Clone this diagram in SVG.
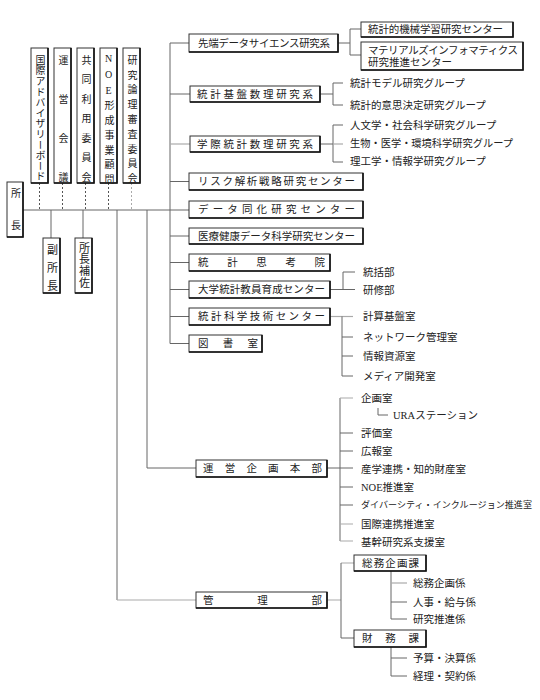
<svg xmlns="http://www.w3.org/2000/svg" width="540" height="700" viewBox="0 0 540 700">
<style>
text{font-family:"Liberation Serif","Noto Sans CJK JP",serif;font-size:10.5px;fill:#222;dominant-baseline:central}
.v{writing-mode:vertical-rl;text-orientation:upright;font-size:10px}
.b{fill:#fff;stroke:#333;stroke-width:1}
.s{fill:none;stroke:#111;stroke-width:1.6}
.ln{fill:none;stroke:#666;stroke-width:1}
.lt{fill:none;stroke:#aaa;stroke-width:1.2}
.d{fill:none;stroke:#555;stroke-width:1;stroke-dasharray:2,2}
.dl{fill:none;stroke:#aaa;stroke-width:1;stroke-dasharray:2,2}
</style>
<rect width="540" height="700" fill="#fff"/>
<g id="connectors">
<path class="ln" d="M23,210H189M51,210V238M83,210V238M117,210V600M147,210V468H196M170,43V343.5"/>
<path class="lt" d="M117,600H196"/>
<path class="d" d="M39.5,183V210M62.5,183V210M85.5,183V210M108.5,183V210"/>
<path class="dl" d="M131.5,183V210"/>
<path class="ln" d="M170,43H189M170,94H190M170,181.5H189M170,236H189M170,262.5H189M170,289.5H189M170,316.5H189M170,343.5H189"/>
<path class="lt" d="M170,144H190"/>
<path class="ln" d="M338,43H350M350,29V55M350,29H361M350,55H361"/>
<path class="ln" d="M320,94H333M333,83V105M333,83H343M333,105H343"/>
<path class="ln" d="M320,144H333M333,125V162M333,125H343M333,162H343"/>
<path class="lt" d="M333,144H343"/>
<path class="ln" d="M330,289.5H355M343,272V289.5M343,272H355"/>
<path class="lt" d="M330,316.5H353"/>
<path class="ln" d="M342,316.5V376M342,337H353M342,356H353M342,376H353"/>
<path class="ln" d="M327,468H353M340,398V541M340,433H353M340,451H353M340,487H353M340,505H353M378,408V415H388"/>
<path class="lt" d="M340,398H353M340,524H353M340,541H353"/>
<path class="lt" d="M327,600H341M341,563H354"/>
<path class="ln" d="M341,563V638H354"/>
<path class="ln" d="M391,571V619M391,602H407M391,619H407M391,647V676M391,658H407M391,676H407"/>
<path class="lt" d="M391,583H407"/>
</g>
<g id="director"><rect class="b" x="7" y="182" width="16" height="55"/><path class="s" d="M23,182V237H7"/><text class="v" x="15" y="188" style="letter-spacing:22px">所長</text></g>
<g id="c1"><rect class="b" x="31" y="48" width="17" height="135"/><path class="s" d="M48,48V183H31"/><text class="v" x="39.5" y="55" style="letter-spacing:0.6px">国際アドバイザリーボード</text></g>
<g id="c2"><rect class="b" x="54" y="48" width="17" height="135"/><path class="s" d="M71,48V183H54"/><text class="v" x="62.5" y="55" style="letter-spacing:29px">運営会議</text></g>
<g id="c3"><rect class="b" x="77" y="48" width="17" height="135"/><path class="s" d="M94,48V183H77"/><text class="v" x="85.5" y="55" style="letter-spacing:9.5px">共同利用委員会</text></g>
<g id="c4"><rect class="b" x="100" y="48" width="17" height="135"/><path class="s" d="M117,48V183H100"/><text class="v" x="108.5" y="53" style="letter-spacing:4.8px">NOE形成事業顧問</text></g>
<g id="c5"><rect class="b" x="123" y="48" width="17" height="135"/><path class="s" d="M140,48V183H123"/><text class="v" x="131.5" y="55" style="letter-spacing:4.8px">研究論理審査委員会</text></g>
<g id="vice"><rect class="b" x="43" y="238" width="17" height="55"/><path class="s" d="M60,238V293H43"/><text class="v" x="51.5" y="244" style="letter-spacing:7px;font-size:11px">副所長</text></g>
<g id="assistant"><rect class="b" x="75" y="238" width="17" height="55"/><path class="s" d="M92,238V293H75"/><text class="v" x="83.5" y="242" style="letter-spacing:0.7px;font-size:11px">所長補佐</text></g>
<g id="n1"><rect class="b" x="189" y="34" width="149" height="18"/><path class="s" d="M338,34V52H189"/><text x="198" y="43" textLength="132" lengthAdjust="spacing">先端データサイエンス研究系</text></g>
<g id="n1a"><rect class="b" x="361" y="22" width="152" height="15"/><path class="s" d="M513,22V37H361"/><text x="368" y="29.5" textLength="135" lengthAdjust="spacing">統計的機械学習研究センター</text></g>
<g id="n1b"><rect class="b" x="361" y="42" width="162" height="28"/><path class="s" d="M523,42V70H361"/><text x="368" y="50" textLength="150" lengthAdjust="spacing">マテリアルズインフォマティクス</text><text x="368" y="62">研究推進センター</text></g>
<g id="n2"><rect class="b" x="190" y="86" width="130" height="16"/><path class="s" d="M320,86V102H190"/><text x="197" y="94" textLength="116" lengthAdjust="spacing">統計基盤数理研究系</text></g>
<g id="n2t"><text x="350" y="83">統計モデル研究グループ</text><text x="350" y="105">統計的意思決定研究グループ</text></g>
<g id="n3"><rect class="b" x="190" y="136" width="130" height="16"/><path class="s" d="M320,136V152H190"/><text x="197" y="144" textLength="116" lengthAdjust="spacing">学際統計数理研究系</text></g>
<g id="n3t"><text x="350" y="125">人文学・社会科学研究グループ</text><text x="350" y="143" textLength="163" lengthAdjust="spacingAndGlyphs">生物・医学・環境科学研究グループ</text><text x="350" y="161">理工学・情報学研究グループ</text></g>
<g id="n4"><rect class="b" x="189" y="173" width="174" height="17"/><path class="s" d="M363,173V190H189"/><text x="198" y="181.5" textLength="157" lengthAdjust="spacing">リスク解析戦略研究センター</text></g>
<g id="n5"><rect class="b" x="189" y="201" width="174" height="17"/><path class="s" d="M363,201V218H189"/><text x="198" y="209.5" textLength="157" lengthAdjust="spacing">データ同化研究センター</text></g>
<g id="n6"><rect class="b" x="189" y="228" width="174" height="16"/><path class="s" d="M363,228V244H189"/><text x="198" y="236" textLength="157" lengthAdjust="spacing">医療健康データ科学研究センター</text></g>
<g id="n7"><rect class="b" x="189" y="254" width="141" height="17"/><path class="s" d="M330,254V271H189"/><text x="198" y="262.5" textLength="127" lengthAdjust="spacing">統計思考院</text></g>
<g id="n8"><rect class="b" x="189" y="281" width="141" height="17"/><path class="s" d="M330,281V298H189"/><text x="198" y="289.5" textLength="127" lengthAdjust="spacing">大学統計教員育成センター</text></g>
<g id="n8t"><text x="363" y="272">統括部</text><text x="363" y="290">研修部</text></g>
<g id="n9"><rect class="b" x="189" y="308" width="141" height="17"/><path class="s" d="M330,308V325H189"/><text x="198" y="316.5" textLength="127" lengthAdjust="spacing">統計科学技術センター</text></g>
<g id="n9t"><text x="363" y="316.5">計算基盤室</text><text x="363" y="337">ネットワーク管理室</text><text x="363" y="356">情報資源室</text><text x="363" y="376">メディア開発室</text></g>
<g id="n10"><rect class="b" x="189" y="335" width="73" height="17"/><path class="s" d="M262,335V352H189"/><text x="198" y="343.5" textLength="60" lengthAdjust="spacing">図書室</text></g>
<g id="n11"><rect class="b" x="196" y="460" width="131" height="17"/><path class="s" d="M327,460V477H196"/><text x="203" y="468.5" textLength="119" lengthAdjust="spacing">運営企画本部</text></g>
<g id="n11t"><text x="361" y="398">企画室</text><text x="393" y="415">URAステーション</text><text x="361" y="433">評価室</text><text x="361" y="451">広報室</text><text x="361" y="469">産学連携・知的財産室</text><text x="361" y="487">NOE推進室</text><text x="361" y="505" style="font-size:9px" textLength="171" lengthAdjust="spacingAndGlyphs">ダイバーシティ・インクルージョン推進室</text><text x="361" y="524">国際連携推進室</text><text x="361" y="542">基幹研究系支援室</text></g>
<g id="n12"><rect class="b" x="196" y="592" width="131" height="16"/><path class="s" d="M327,592V608H196"/><text x="203" y="600" textLength="119" lengthAdjust="spacing">管理部</text></g>
<g id="n12a"><rect class="b" x="354" y="555" width="72" height="16"/><path class="s" d="M426,555V571H354"/><text x="362" y="563" textLength="57" lengthAdjust="spacing">総務企画課</text></g>
<g id="n12at"><text x="413" y="583">総務企画係</text><text x="413" y="602">人事・給与係</text><text x="413" y="619">研究推進係</text></g>
<g id="n12b"><rect class="b" x="354" y="630" width="72" height="17"/><path class="s" d="M426,630V647H354"/><text x="362" y="638.5" textLength="57" lengthAdjust="spacing">財務課</text></g>
<g id="n12bt"><text x="413" y="658">予算・決算係</text><text x="413" y="676">経理・契約係</text></g>
</svg>
